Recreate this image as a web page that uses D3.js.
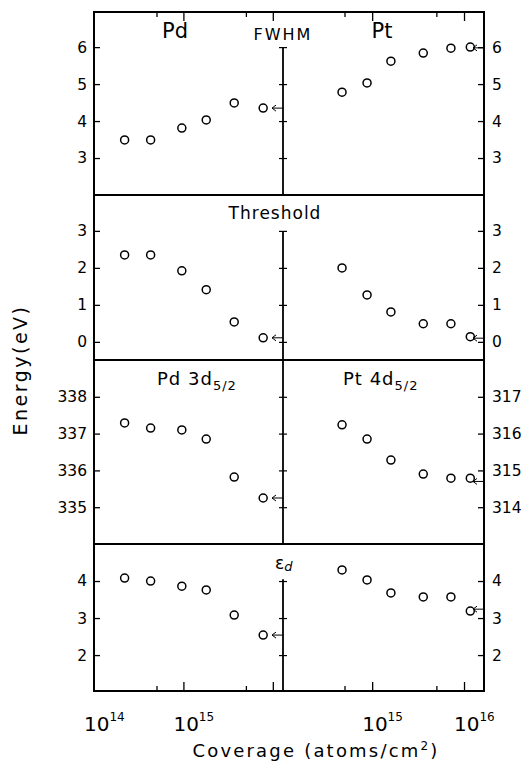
<!DOCTYPE html>
<html>
<head>
<meta charset="utf-8">
<script src="https://cdn.jsdelivr.net/npm/d3@7"></script>
<style>
  body { margin: 0; background: #fff; }
  svg { display: block; }
  text { font-family: "DejaVu Sans", sans-serif; fill: #000; }
</style>
</head>
<body>
<svg id="chart" width="522" height="768"></svg>
<script>
// coverage (atoms/cm2) of each point
const pdCoverage = [2.2e14, 4.3e14, 9.6e14, 1.8e15, 3.7e15, 7.8e15];
const ptCoverage = [4.7e14, 8.8e14, 1.6e15, 3.6e15, 7.2e15, 1.17e16];

// values per panel
const pdFwhm = [3.49, 3.49, 3.81, 4.03, 4.49, 4.35];
const ptFwhm = [4.78, 5.03, 5.62, 5.84, 5.97, 6.0];
const pdThreshold = [2.35, 2.35, 1.92, 1.41, 0.54, 0.11];
const ptThreshold = [2.0, 1.27, 0.81, 0.49, 0.49, 0.14];
const pd3d = [337.29, 337.15, 337.10, 336.85, 335.82, 335.25];
const pt4d = [316.24, 315.85, 315.28, 314.90, 314.79, 314.79];
const pdEd = [4.08, 4.0, 3.86, 3.76, 3.08, 2.54];
const ptEd = [4.30, 4.03, 3.68, 3.57, 3.57, 3.19];

// bulk values (arrows)
const pdBulk = [4.35, 0.11, 335.25, 2.54];
const ptBulk = [5.98, 0.1, 314.7, 3.24];

// tick labels
const ticksFwhm = [3, 4, 5, 6];
const ticksThreshold = [0, 1, 2, 3];
const ticksPd3d = [335, 336, 337, 338];
const ticksPt4d = [314, 315, 316, 317];
const ticksEd = [2, 3, 4];
const xMajor = [1e14, 1e15, 1e16];
const xMinor = [5e14, 5e15];

const svg = d3.select('#chart');
const L = 94, R = 484, C = 283;

const xPd = d3.scaleLog().domain([1e14, 1.3e16]).range([L, C]);
const xPt = d3.scaleLog().domain([1.07e14, 1.65e16]).range([C, R]);

// panels
const panels = [
    { top: 12, bottom: 195, dl: [6.95, 2.0], dr: [6.95, 2.0], tl: ticksFwhm, tr: ticksFwhm,
      pd: pdFwhm, pt: ptFwhm, cTop: 6 },
    { top: 195, bottom: 360, dl: [3.97, -0.49], dr: [3.97, -0.49], tl: ticksThreshold, tr: ticksThreshold,
      pd: pdThreshold, pt: ptThreshold, cTop: 3 },
    { top: 360, bottom: 544, dl: [339, 334], dr: [318, 313], tl: ticksPd3d, tr: ticksPt4d,
      pd: pd3d, pt: pt4d, cTop: null },
    { top: 544, bottom: 691, dl: [5.0, 1.03], dr: [5.0, 1.03], tl: ticksEd, tr: ticksEd,
      pd: pdEd, pt: ptEd, cTop: 4.05 }
];

panels.forEach((p, i) => {
    const yl = d3.scaleLinear().domain(p.dl).range([p.top, p.bottom]);
    const yr = d3.scaleLinear().domain(p.dr).range([p.top, p.bottom]);

    // left frame axis
    const gl = svg.append('g').attr('transform', `translate(${L},0)`)
        .call(d3.axisLeft(yl).tickValues(p.tl).tickSize(-6).tickPadding(7).tickFormat(d3.format('d')));
    // right frame axis
    const gr = svg.append('g').attr('transform', `translate(${R},0)`)
        .call(d3.axisRight(yr).tickValues(p.tr).tickSize(-6).tickPadding(8).tickFormat(d3.format('d')));
    [gl, gr].forEach(g => {
        g.select('.domain').remove();
        g.selectAll('.tick line').attr('stroke-width', 1.3);
        g.selectAll('text').style('font-size', '15.5px');
    });

    // center line with crossing ticks
    const cy0 = p.cTop == null ? p.top : yl(p.cTop);
    svg.append('line').attr('x1', C).attr('x2', C).attr('y1', cy0).attr('y2', p.bottom)
        .attr('stroke', '#000').attr('stroke-width', 1.8);
    [d3.axisLeft, d3.axisRight].forEach(ax => {
        const g = svg.append('g').attr('transform', `translate(${C},0)`)
            .call(ax(yl).tickValues(p.tl).tickSize(4).tickFormat(''));
        g.select('.domain').remove();
        g.selectAll('.tick line').attr('stroke-width', 1.2);
    });

    // points
    svg.append('g').selectAll('circle').data(p.pd).join('circle')
        .attr('cx', (d, j) => xPd(pdCoverage[j])).attr('cy', d => yl(d))
        .attr('r', 4).attr('fill', 'none').attr('stroke', '#000').attr('stroke-width', 1.5);
    svg.append('g').selectAll('circle').data(p.pt).join('circle')
        .attr('cx', (d, j) => xPt(ptCoverage[j])).attr('cy', d => yr(d))
        .attr('r', 4).attr('fill', 'none').attr('stroke', '#000').attr('stroke-width', 1.5);

    // bulk arrows
    drawArrow(C, yl(pdBulk[i]));
    drawArrow(R, yr(ptBulk[i]));

    // panel divider
    if (i > 0) {
        svg.append('line').attr('x1', L).attr('x2', R).attr('y1', p.top).attr('y2', p.top)
            .attr('stroke', '#000').attr('stroke-width', 2);
    }
});

function drawArrow(x, y) {
    svg.append('path')
        .attr('d', `M${x},${y}H${x - 11}M${x - 7},${y - 3}L${x - 11},${y}L${x - 7},${y + 3}`)
        .attr('fill', 'none').attr('stroke', '#000').attr('stroke-width', 1);
}

// frame
svg.append('rect').attr('x', L).attr('y', 12).attr('width', R - L).attr('height', 691 - 12)
    .attr('fill', 'none').attr('stroke', '#000').attr('stroke-width', 2);

// x ticks on top and bottom
[xPd, xPt].forEach(x => {
    const inDom = v => v >= x.domain()[0] * 0.999 && v <= x.domain()[1];
    const major = xMajor.filter(v => inDom(v) && Math.abs(x(v) - L) > 2);
    const minor = xMinor.filter(inDom);
    [[major, 9], [minor, 5]].forEach(([vals, len]) => {
        const gt = svg.append('g').attr('transform', 'translate(0,12)')
            .call(d3.axisTop(x).tickValues(vals).tickSize(-len).tickFormat(''));
        const gb = svg.append('g').attr('transform', 'translate(0,691)')
            .call(d3.axisBottom(x).tickValues(vals).tickSize(-len).tickFormat(''));
        [gt, gb].forEach(g => {
            g.select('.domain').remove();
            g.selectAll('.tick line').attr('stroke-width', 1.3);
        });
    });
});

// x tick labels (10^n)
const xLabels = [[xPd, 1e14], [xPd, 1e15], [xPt, 1e15], [xPt, 1e16]];
xLabels.forEach(([x, v]) => {
    const t = svg.append('text').attr('x', x(v) - 10).attr('y', 731).style('font-size', '20px');
    t.append('tspan').text('10');
    t.append('tspan').attr('dy', -10).style('font-size', '12px').text(Math.round(Math.log10(v)));
});

// panel labels
function label(txt, x, y, size, anchor, spacing) {
    return svg.append('text').attr('x', x).attr('y', y).attr('text-anchor', anchor || 'middle')
        .style('font-size', size + 'px').style('letter-spacing', (spacing || 0) + 'px').text(txt);
}
label('Pd', 175, 38, 21);
label('FWHM', 283, 40, 16, 'middle', 2);
label('Pt', 382, 38, 21);
label('Threshold', 275, 219, 17, 'middle', 1);

const pdLab = svg.append('text').attr('x', 157).attr('y', 385).style('font-size', '18px').style('letter-spacing', '1px');
pdLab.append('tspan').text('Pd 3d');
pdLab.append('tspan').attr('dy', 5).style('font-size', '13px').text('5/2');
const ptLab = svg.append('text').attr('x', 343).attr('y', 385).style('font-size', '18px').style('letter-spacing', '1px');
ptLab.append('tspan').text('Pt 4d');
ptLab.append('tspan').attr('dy', 5).style('font-size', '13px').text('5/2');

const edLab = svg.append('text').attr('x', 275).attr('y', 569).style('font-size', '17px');
edLab.append('tspan').text('ε');
edLab.append('tspan').attr('dy', 2).style('font-size', '13px').style('font-style', 'italic').text('d');

// axis titles
svg.append('text').attr('transform', 'translate(27,370) rotate(-90)').attr('text-anchor', 'middle')
    .style('font-size', '19px').style('letter-spacing', '2.5px').text('Energy(eV)');

const xt = svg.append('text').attr('x', 316).attr('y', 757).attr('text-anchor', 'middle')
    .style('font-size', '18px').style('letter-spacing', '2.2px');
xt.append('tspan').text('Coverage (atoms/cm');
xt.append('tspan').attr('dy', -7).style('font-size', '12px').text('2');
xt.append('tspan').attr('dy', 7).text(')');
</script>
</body>
</html>
